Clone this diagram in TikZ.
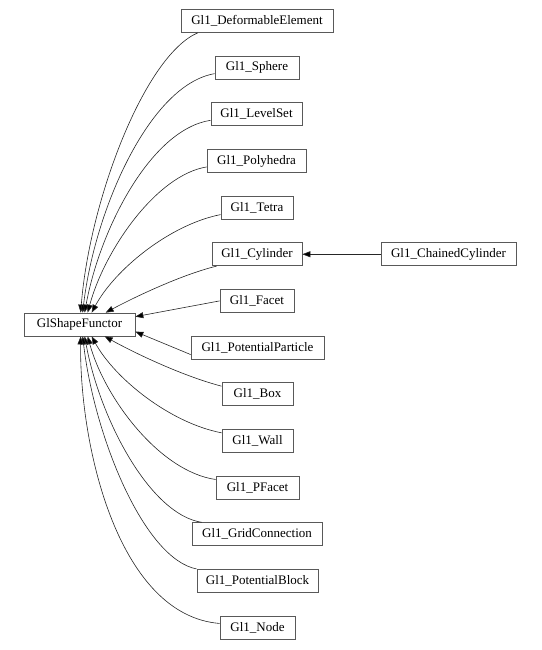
\documentclass[tikz,border=0pt]{standalone}
\usepackage{fontspec}
\setmainfont{Liberation Serif}
\usetikzlibrary{arrows.meta}
\tikzset{
  cls/.style={draw=black!65, line width=0.7pt, fill=white, inner xsep=2pt, inner ysep=0pt,
    minimum height=23pt, font=\fontsize{13}{15}\selectfont},
  edge/.style={draw=black!85, line width=0.6pt, -{Triangle[length=8pt,width=6pt,fill=black]}}
}
\begin{document}
\begin{tikzpicture}[x=1pt,y=-1pt]
\useasboundingbox (0,0) rectangle (541,650);
\node[cls, minimum width=111pt] (base) at (79.5,324.5) {GlShapeFunctor};
\node[cls, minimum width=152pt] (def) at (257,21) {Gl1\_DeformableElement};
\node[cls, minimum width=84pt] (sph) at (257,67.65) {Gl1\_Sphere};
\node[cls, minimum width=91pt] (lvl) at (256.5,114.3) {Gl1\_LevelSet};
\node[cls, minimum width=99pt] (pol) at (256.5,160.95) {Gl1\_Polyhedra};
\node[cls, minimum width=72pt] (tet) at (257,207.6) {Gl1\_Tetra};
\node[cls, minimum width=90pt] (cyl) at (257,254.25) {Gl1\_Cylinder};
\node[cls, minimum width=135pt] (chc) at (448.5,254.25) {Gl1\_ChainedCylinder};
\node[cls, minimum width=74pt] (fac) at (257,300.9) {Gl1\_Facet};
\node[cls, minimum width=133pt] (ppa) at (257.5,347.55) {Gl1\_PotentialParticle};
\node[cls, minimum width=71pt] (box) at (257.5,394.2) {Gl1\_Box};
\node[cls, minimum width=71pt] (wal) at (257.5,440.85) {Gl1\_Wall};
\node[cls, minimum width=83pt] (pfa) at (257.5,487.5) {Gl1\_PFacet};
\node[cls, minimum width=130pt] (grd) at (257,534.15) {Gl1\_GridConnection};
\node[cls, minimum width=121pt] (pbl) at (257.5,580.8) {Gl1\_PotentialBlock};
\node[cls, minimum width=75pt] (nod) at (257.5,627.45) {Gl1\_Node};
% top edges
\draw[edge] ([xshift=17pt]def.south west) .. controls +(-53,23) and +(9,-113) .. ([xshift=57pt]base.north west);
\draw[edge] ([yshift=-6pt]sph.west) .. controls +(-65,11) and +(12,-103) .. ([xshift=59pt]base.north west);
\draw[edge] ([yshift=-6pt]lvl.west) .. controls +(-60,9) and +(15,-83) .. ([xshift=61pt]base.north west);
\draw[edge] ([yshift=-6pt]pol.west) .. controls +(-50,8) and +(17,-63) .. ([xshift=64pt]base.north west);
\draw[edge] ([yshift=-7pt]tet.west) .. controls +(-51,10) and +(23,-43) .. ([xshift=68pt]base.north west);
\draw[edge] ([xshift=5pt]cyl.south west) .. controls +(-37,9) and +(24,-13) .. ([xshift=82pt]base.north west);
\draw[edge] (fac.west) -- ([yshift=-4pt]base.north east);
\draw[edge] ([yshift=-7pt]ppa.west) -- ([yshift=-19pt]base.north east);
% bottom edges
\draw[edge] ([yshift=8pt]box.west) .. controls +(-42,-11) and +(25,14) .. ([xshift=81pt]base.south west);
\draw[edge] ([yshift=8pt]wal.west) .. controls +(-52,-10) and +(23,42) .. ([xshift=68pt]base.south west);
\draw[edge] ([yshift=8pt]pfa.west) .. controls +(-56,-8) and +(17,62) .. ([xshift=64pt]base.south west);
\draw[edge] ([xshift=10pt]grd.north west) .. controls +(-52,-8) and +(15,82) .. ([xshift=61pt]base.south west);
\draw[edge] (pbl.north west) .. controls +(-52,-10) and +(12,102) .. ([xshift=59pt]base.south west);
\draw[edge] ([yshift=4pt]nod.west) .. controls +(-100,-8) and +(-1,114) .. ([xshift=57pt]base.south west);
% chained
\draw[edge] (chc.west) -- (cyl.east);
\end{tikzpicture}
\end{document}
